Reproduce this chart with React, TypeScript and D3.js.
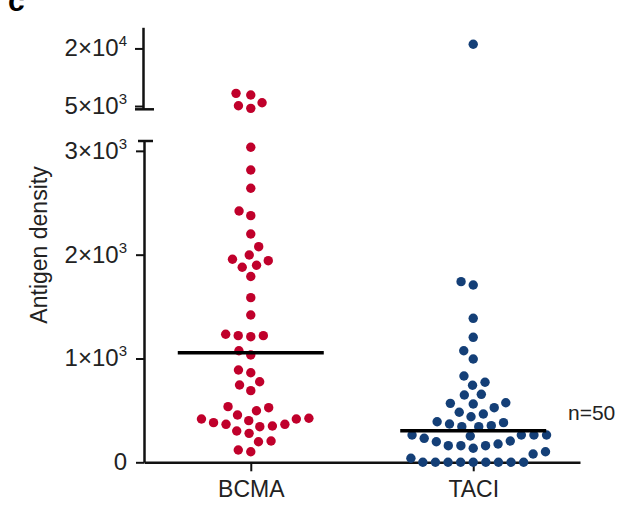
import React, { useEffect, useRef } from 'react';
import * as d3 from 'd3';

const groups = ['BCMA', 'TACI'];
const groupColors = ['#c0002b', '#143f77'];

// antigen density per patient
const bcmaValues = [
  8300, 7860, 5860, 5080, 4400,
  3035, 2816, 2640, 2376, 2421, 2199, 2077, 1997, 1942, 1879, 1898, 1956, 1790,
  1586, 1419, 1220, 1210, 1220, 1233, 1075, 1034, 863, 889, 745, 776, 690,
  536, 497, 526, 401, 366, 350, 424, 417, 417, 456, 343, 366, 382,
  302, 279, 198, 205, 102, 118,
];
const taciValues = [
  21100,
  1740, 1708, 1387, 1204, 1075, 995, 831, 771, 742, 655, 648,
  568, 562, 574, 526, 482, 465, 439, 391, 369, 343, 343, 353, 382,
  263, 231, 263, 263, 263, 253, 198, 160, 160, 135, 160, 176, 205,
  80, 102, 39, 0, 0, 0, 0, 0, 0, 0, 0, 0,
];
const seriesValues = [bcmaValues, taciValues];

const lowerTicks = [0, 1000, 2000, 3000];
const upperTicks = [5000, 20000];
const lowerDomain = [0, 3095];
const upperDomain = [4150, 25500];
const yLabel = 'Antigen density';
const nLabel = 'n=50';

const font = '"Liberation Sans", Arial, sans-serif';

// split "2000" into mantissa and exponent for the "2×10³" labels
function sciParts(v: number) {
  if (v === 0) return null;
  const exp = Math.floor(Math.log10(v));
  return { m: Math.round(v / Math.pow(10, exp)), e: exp };
}

// simple beeswarm: place each dot as close to the centre as it fits
function swarm(ys: number[], minDist: number) {
  const order = d3.range(ys.length).sort((a, b) => ys[b] - ys[a]);
  const placed: { x: number; y: number }[] = [];
  const xs: number[] = new Array(ys.length).fill(0);
  order.forEach(i => {
    const y = ys[i];
    const blocks = placed
      .filter(p => Math.abs(p.y - y) < minDist)
      .map(p => {
        const dx = Math.sqrt(minDist * minDist - (p.y - y) * (p.y - y));
        return [p.x - dx, p.x + dx];
      });
    const cands = [0];
    blocks.forEach(b => cands.push(b[0], b[1]));
    cands.sort((a, b) => Math.abs(a) - Math.abs(b) || a - b);
    const ok = cands.find(c => blocks.every(b => c <= b[0] + 1e-6 || c >= b[1] - 1e-6));
    xs[i] = ok ?? 0;
    placed.push({ x: xs[i], y });
  });
  return xs;
}

export default function App() {
  const ref = useRef<SVGSVGElement>(null);

  useEffect(() => {
    const svg = d3.select(ref.current);
    svg.selectAll('*').remove();

    const axisX = 144;
    const yLow = d3.scaleLinear().domain(lowerDomain).range([462.3, 141]);
    const yHigh = d3.scaleLinear().domain(upperDomain).range([109.3, 27.3]);
    const y = (v: number) => (v > lowerDomain[1] ? yHigh(v) : yLow(v));
    const x = d3.scalePoint().domain(groups).range([axisX, 580]).padding(0.48);

    // panel letter, cut off at the top edge like in the figure
    svg.append('text')
      .attr('x', 8)
      .attr('y', 11)
      .attr('font-family', font)
      .attr('font-weight', 'bold')
      .attr('font-size', 30)
      .text('c');

    // y axis, two segments
    const axisStyle = (g: any) => {
      g.select('.domain').attr('stroke', '#111').attr('stroke-width', 2.5);
      g.selectAll('.tick line').attr('stroke', '#111').attr('stroke-width', 2);
      g.selectAll('.tick text').remove();
    };
    svg.append('g')
      .attr('transform', `translate(${axisX},0)`)
      .call(d3.axisLeft(yLow).tickValues(lowerTicks).tickSize(8).tickSizeOuter(0))
      .call(axisStyle);
    svg.append('g')
      .attr('transform', `translate(${axisX - 1},0)`)
      .call(d3.axisLeft(yHigh).tickValues(upperTicks).tickSize(8).tickSizeOuter(0))
      .call(axisStyle);

    // break caps
    svg.append('line')
      .attr('x1', 135).attr('x2', 154)
      .attr('y1', yHigh(upperDomain[0])).attr('y2', yHigh(upperDomain[0]))
      .attr('stroke', '#111').attr('stroke-width', 2.5);
    svg.append('line')
      .attr('x1', 138).attr('x2', 153)
      .attr('y1', yLow(lowerDomain[1])).attr('y2', yLow(lowerDomain[1]))
      .attr('stroke', '#111').attr('stroke-width', 2.5);

    // tick labels with superscripts
    const tickVals = lowerTicks.map(v => ({ v, py: yLow(v) }))
      .concat(upperTicks.map(v => ({ v, py: yHigh(v) })));
    tickVals.forEach(t => {
      const txt = svg.append('text')
        .attr('x', 127)
        .attr('y', t.py + 8)
        .attr('text-anchor', 'end')
        .attr('font-family', font)
        .attr('font-size', 24)
        .attr('fill', '#222');
      const p = sciParts(t.v);
      if (!p) {
        txt.text('0');
      } else {
        txt.append('tspan').text(`${p.m}×10`);
        txt.append('tspan').attr('font-size', 15).attr('dy', -10).text(String(p.e));
      }
    });

    svg.append('text')
      .attr('transform', `translate(47,245) rotate(-90)`)
      .attr('text-anchor', 'middle')
      .attr('font-family', font)
      .attr('font-size', 23)
      .attr('fill', '#222')
      .text(yLabel);

    // x axis
    const xg = svg.append('g')
      .attr('transform', `translate(0,${yLow(0)})`)
      .call(d3.axisBottom(x).tickSize(9).tickSizeOuter(0).tickPadding(9));
    xg.select('.domain').attr('stroke', '#111').attr('stroke-width', 2.5);
    xg.selectAll('.tick line').attr('stroke', '#111').attr('stroke-width', 2);
    xg.selectAll('.tick text')
      .attr('font-family', font)
      .attr('font-size', 23)
      .attr('fill', '#222');

    // dots and median bars
    groups.forEach((g, gi) => {
      const vals = seriesValues[gi];
      const ys = vals.map(y);
      const xs = swarm(ys, 12.6);
      svg.append('g')
        .selectAll('circle')
        .data(vals)
        .enter()
        .append('circle')
        .attr('cx', (d, i) => (x(g) as number) + xs[i])
        .attr('cy', (d, i) => ys[i])
        .attr('r', 4.7)
        .attr('fill', groupColors[gi]);

      const med = d3.median(vals) as number;
      svg.append('line')
        .attr('x1', (x(g) as number) - 73)
        .attr('x2', (x(g) as number) + 73)
        .attr('y1', yLow(med))
        .attr('y2', yLow(med))
        .attr('stroke', '#000')
        .attr('stroke-width', 3.5);
    });

    svg.append('text')
      .attr('x', 568)
      .attr('y', 420)
      .attr('font-family', font)
      .attr('font-size', 21)
      .attr('fill', '#222')
      .text(nLabel);
  }, []);

  return (
    <svg
      ref={ref}
      width={626}
      height={506}
      style={{ position: 'absolute', left: 0, top: 0, background: '#fff' }}
    />
  );
}
